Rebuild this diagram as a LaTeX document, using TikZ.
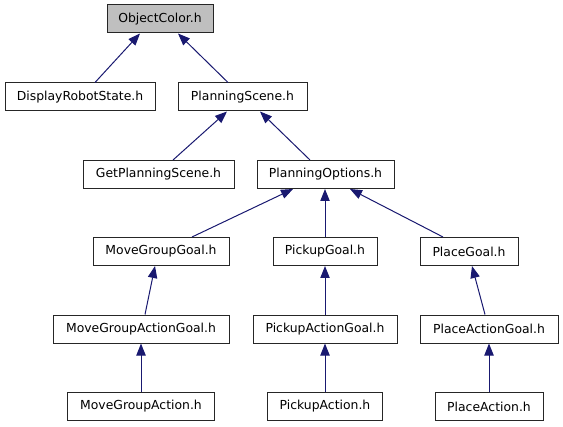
\documentclass[tikz,border=0pt]{standalone}
\usepackage{fontspec}
\setmainfont{DejaVu Sans}
\usetikzlibrary{arrows.meta}
\definecolor{edgeblue}{HTML}{191970}
\definecolor{topgray}{HTML}{BFBFBF}
\tikzset{
  box/.style={draw=black!85, line width=0.75pt, fill=white, inner sep=0pt,
    minimum height=21pt, font=\fontsize{9.3}{11}\selectfont, text=black},
  dep/.style={draw=edgeblue, line width=0.75pt,
    -{Triangle[length=9pt,width=7pt,fill=edgeblue]}}
}
\begin{document}
\begin{tikzpicture}[x=0.75pt,y=-0.75pt]
\useasboundingbox (0,0) rectangle (563,427);
\node[box, fill=topgray, minimum width=106*0.75pt] (oc) at (160,19) {ObjectColor.h};
\node[box, minimum width=150*0.75pt] (drs) at (80,97) {DisplayRobotState.h};
\node[box, minimum width=129*0.75pt] (ps) at (242.5,97) {PlanningScene.h};
\node[box, minimum width=151*0.75pt] (gps) at (158.5,174.5) {GetPlanningScene.h};
\node[box, minimum width=137*0.75pt] (po) at (325.5,174.5) {PlanningOptions.h};
\node[box, minimum width=136*0.75pt] (mgg) at (161,251.5) {MoveGroupGoal.h};
\node[box, minimum width=104*0.75pt] (pg) at (325,251.5) {PickupGoal.h};
\node[box, minimum width=98*0.75pt] (plg) at (469,251.5) {PlaceGoal.h};
\node[box, minimum width=176*0.75pt] (mgag) at (141,329) {MoveGroupActionGoal.h};
\node[box, minimum width=144*0.75pt] (pag) at (325,329) {PickupActionGoal.h};
\node[box, minimum width=138*0.75pt] (plag) at (489,329) {PlaceActionGoal.h};
\node[box, minimum width=147*0.75pt] (mga) at (141,406.5) {MoveGroupAction.h};
\node[box, minimum width=115*0.75pt] (pa) at (325,406.5) {PickupAction.h};
\node[box, minimum width=108*0.75pt] (pla) at (489,406.5) {PlaceAction.h};

\draw[dep] ([xshift=15*0.75pt]drs.north) -- ([xshift=-20*0.75pt]oc.south);
\draw[dep] ([xshift=-14.5*0.75pt]ps.north) -- ([xshift=18*0.75pt]oc.south);
\draw[dep] ([xshift=14.5*0.75pt]gps.north) -- ([xshift=-15.5*0.75pt]ps.south);
\draw[dep] ([xshift=-15.5*0.75pt]po.north) -- ([xshift=17.5*0.75pt]ps.south);
\draw[dep] ([xshift=31*0.75pt]mgg.north) -- ([xshift=-32.5*0.75pt]po.south);
\draw[dep] (pg.north) -- (pg.north |- po.south);
\draw[dep] ([xshift=-26*0.75pt]plg.north) -- ([xshift=24.5*0.75pt]po.south);
\draw[dep] ([xshift=4*0.75pt]mgag.north) -- ([xshift=-6*0.75pt]mgg.south);
\draw[dep] (pag.north) -- (pg.south);
\draw[dep] ([xshift=-4*0.75pt]plag.north) -- ([xshift=3*0.75pt]plg.south);
\draw[dep] (mga.north) -- (mgag.south);
\draw[dep] (pa.north) -- (pag.south);
\draw[dep] (pla.north) -- (plag.south);
\end{tikzpicture}
\end{document}
